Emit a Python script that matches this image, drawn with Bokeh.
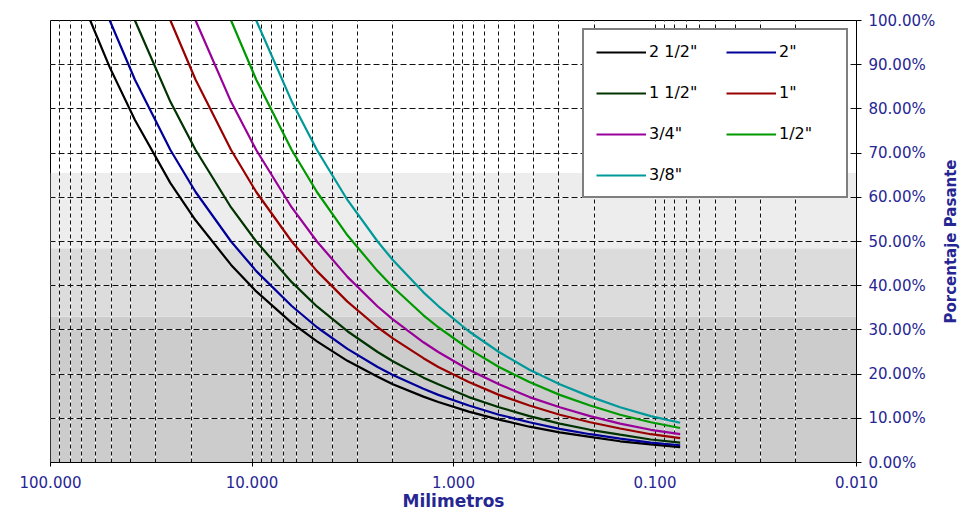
from bokeh.plotting import figure
from bokeh.layouts import row
from bokeh.models import (Range1d, LinearAxis, FixedTicker, Grid, Legend, LegendItem,
                          NumeralTickFormatter, PrintfTickFormatter, ColumnDataSource)
from bokeh.embed import file_html
from bokeh.resources import INLINE

# ---------------- data ----------------
sieves_mm = [63.5, 50.8, 38.1, 25.4, 19.05, 12.7, 9.525, 6.35, 4.76, 3.36, 2.38, 2.0,
             1.41, 1.19, 0.84, 0.595, 0.42, 0.297, 0.21, 0.149, 0.105, 0.075]

series_names = ['2 1/2"', '2"', '1 1/2"', '1"', '3/4"', '1/2"', '3/8"']
series_colors = ["#000000", "#000099", "#003300", "#990000", "#990099", "#009900", "#009999"]

pct_2_1_2 = [100, 89.4, 77.5, 63.2, 54.8, 44.7, 38.7, 31.6, 27.4, 23.0, 19.4, 17.7,
             14.9, 13.7, 11.5, 9.7, 8.1, 6.8, 5.8, 4.8, 4.1, 3.5]
pct_2 = [None, 100, 86.6, 70.7, 61.2, 50.0, 43.3, 35.4, 30.6, 25.7, 21.6, 19.8,
         16.7, 15.3, 12.9, 10.8, 9.1, 7.6, 6.4, 5.4, 4.5, 3.9]
pct_1_1_2 = [None, None, 100, 81.6, 70.7, 57.7, 50.0, 40.8, 35.3, 29.7, 25.0, 22.9,
             19.2, 17.7, 14.8, 12.5, 10.5, 8.8, 7.4, 6.3, 5.2, 4.5]
pct_1 = [None, None, None, 100, 86.6, 70.7, 61.2, 50.0, 43.3, 36.4, 30.6, 28.1,
         23.6, 21.6, 18.2, 15.3, 12.9, 10.8, 9.1, 7.7, 6.4, 5.5]
pct_3_4 = [None, None, None, None, 100, 81.6, 70.7, 57.7, 50.0, 42.0, 35.3, 32.4,
           27.2, 25.0, 21.0, 17.7, 14.8, 12.5, 10.5, 8.8, 7.4, 6.4]
pct_1_2 = [None, None, None, None, None, 100, 86.6, 70.7, 61.2, 51.4, 43.3, 39.7,
           33.3, 30.6, 25.7, 21.6, 18.2, 15.3, 12.9, 10.8, 9.1, 7.8]
pct_3_8 = [None, None, None, None, None, None, 100, 81.7, 70.7, 59.4, 50.0, 45.8,
           38.5, 35.4, 29.7, 25.0, 21.0, 17.7, 14.9, 12.5, 10.5, 9.0]

all_series = [pct_2_1_2, pct_2, pct_1_1_2, pct_1, pct_3_4, pct_1_2, pct_3_8]

band_bottom = [0, 33, 48.5]
band_top = [33, 48.5, 65.5]
band_colors = ["#cccccc", "#dcdcdc", "#ededed"]

x_major_ticks = [100, 10, 1, 0.1, 0.01]
x_grid_ticks = [m * d for d in [0.01, 0.1, 1, 10] for m in range(1, 10)] + [100]
y_ticks = [0, 10, 20, 30, 40, 50, 60, 70, 80, 90, 100]

x_title = "Milimetros"
y_title = "Porcentaje Pasante"

TXT = "#262693"
FONT = "DejaVu Sans"

# ---------------- main figure ----------------
p = figure(width=938, height=513, x_axis_type="log",
           x_range=Range1d(100, 0.01), y_range=Range1d(0, 100),
           output_backend="svg", toolbar_location=None,
           min_border_left=50, min_border_right=80, min_border_top=20, min_border_bottom=51)
p.background_fill_color = "white"
p.border_fill_color = "white"
p.outline_line_color = "black"
p.outline_line_width = 1

# gray bands
band_src = ColumnDataSource(dict(left=[100] * len(band_bottom), right=[0.01] * len(band_bottom),
                                 bottom=band_bottom, top=band_top, color=band_colors))
p.quad(left="left", right="right", bottom="bottom", top="top", fill_color="color",
       line_color=None, source=band_src, level="image")

# grids: white solid underneath, black dashed on top
p.xgrid.ticker = FixedTicker(ticks=x_grid_ticks)
p.xgrid.grid_line_color = "white"
p.xgrid.grid_line_width = 1
p.ygrid.ticker = FixedTicker(ticks=y_ticks)
p.ygrid.grid_line_color = "white"
p.ygrid.grid_line_width = 1

gx = Grid(dimension=0, ticker=FixedTicker(ticks=x_grid_ticks), grid_line_color="#111111",
          grid_line_width=1, grid_line_dash="4 3")
gy = Grid(dimension=1, ticker=FixedTicker(ticks=y_ticks), grid_line_color="#111111",
          grid_line_width=1, grid_line_dash="6 3")
p.add_layout(gx)
p.add_layout(gy)

# curves
items = []
for name, col, vals in zip(series_names, series_colors, all_series):
    xs = [s for s, v in zip(sieves_mm, vals) if v is not None]
    ys = [v for v in vals if v is not None]
    r = p.line(xs, ys, line_color=col, line_width=2.2)
    items.append(LegendItem(label=name, renderers=[r]))

# bottom axis
xa = p.xaxis[0]
xa.ticker = FixedTicker(ticks=x_major_ticks, minor_ticks=[])
xa.formatter = NumeralTickFormatter(format="0.000")
xa.major_label_text_font = FONT
xa.major_label_text_font_size = "15px"
xa.major_label_text_color = TXT
xa.major_tick_out = 4
xa.major_tick_in = 0
xa.minor_tick_out = 0
xa.minor_tick_in = 0
xa.major_label_standoff = 9
xa.axis_line_color = "black"
xa.major_tick_line_color = "black"
xa.axis_label = x_title
xa.axis_label_text_font = FONT
xa.axis_label_text_font_size = "17px"
xa.axis_label_text_font_style = "bold"
xa.axis_label_text_color = TXT
xa.axis_label_standoff = 0

# left axis hidden (frame outline draws the line)
p.yaxis[0].visible = False

# right axis with tick labels
ra = LinearAxis(ticker=FixedTicker(ticks=y_ticks), formatter=PrintfTickFormatter(format="%.2f%%"))
ra.major_label_text_font = FONT
ra.major_label_text_font_size = "15px"
ra.major_label_text_color = TXT
ra.major_tick_out = 5
ra.major_tick_in = 0
ra.minor_tick_out = 0
ra.minor_tick_in = 0
ra.major_label_standoff = 7
ra.axis_line_color = "black"
ra.major_tick_line_color = "black"
p.add_layout(ra, "right")

# legend
legend = Legend(items=items, location="top_right", orientation="horizontal", ncols=2,
                label_text_font=FONT, label_text_font_size="16px", label_text_color="black",
                glyph_width=50, glyph_height=16, label_height=16, label_width=55,
                label_standoff=3, spacing=22, padding=12, margin=8,
                border_line_color="black", border_line_width=2,
                background_fill_color="white", background_fill_alpha=1)
p.add_layout(legend)

# ---------------- narrow strip carrying the y title (reads bottom to top) ----------------
q = figure(width=22, height=513, x_range=Range1d(0, 1), y_range=Range1d(0, 100),
           output_backend="svg", toolbar_location=None,
           min_border_left=20, min_border_right=0, min_border_top=20, min_border_bottom=51)
q.outline_line_color = None
q.background_fill_color = "white"
q.border_fill_color = "white"
q.grid.visible = False
q.xaxis.visible = False
qa = q.yaxis[0]
qa.ticker = FixedTicker(ticks=[])
qa.axis_line_color = None
qa.major_tick_line_color = None
qa.minor_tick_line_color = None
qa.major_tick_out = 0
qa.major_tick_in = 0
qa.minor_tick_out = 0
qa.minor_tick_in = 0
qa.major_label_standoff = 0
qa.axis_label = y_title
qa.axis_label_text_font = FONT
qa.axis_label_text_font_size = "15px"
qa.axis_label_text_font_style = "bold"
qa.axis_label_text_color = TXT
qa.axis_label_standoff = 0

layout = row(p, q, spacing=0)
open("out.html", "w").write(file_html(layout, INLINE))
